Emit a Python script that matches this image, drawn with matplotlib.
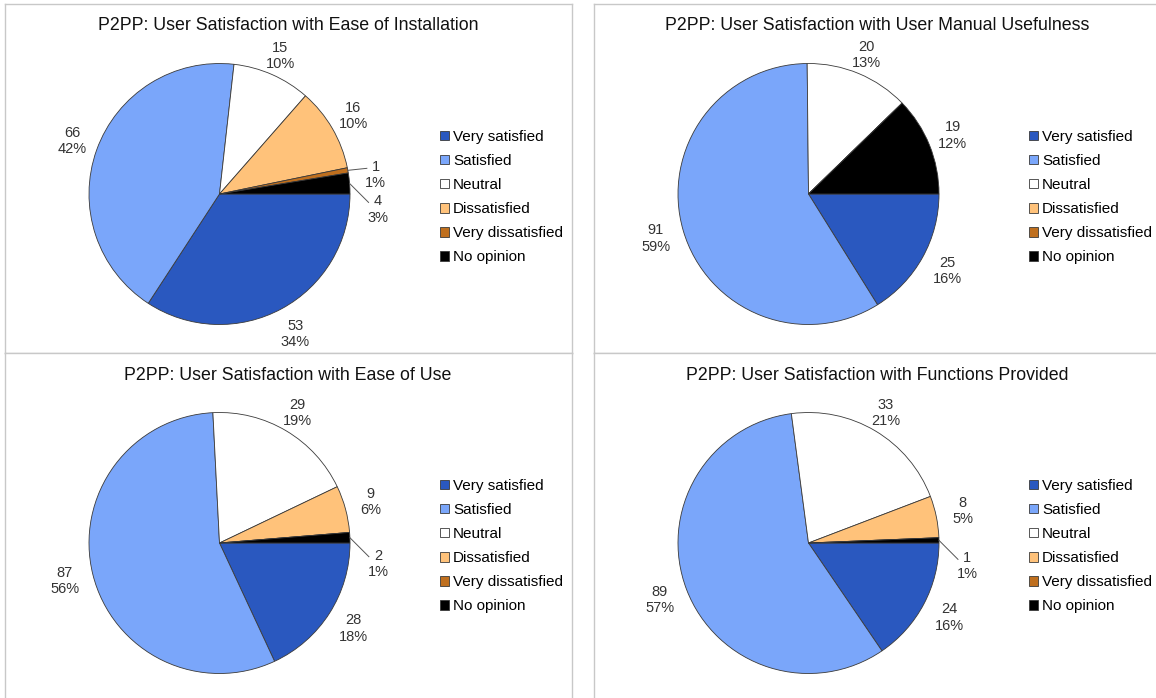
import numpy as np
import matplotlib
matplotlib.use("Agg")
import matplotlib.pyplot as plt

plt.rcParams['font.family'] = ['Liberation Sans', 'DejaVu Sans']

categories = ['Very satisfied', 'Satisfied', 'Neutral', 'Dissatisfied',
              'Very dissatisfied', 'No opinion']
colors = ['#2A58BF', '#7AA6FA', '#FFFFFF', '#FFC27A', '#BF6F1E', '#000000']

titles = ['P2PP: User Satisfaction with Ease of Installation',
          'P2PP: User Satisfaction with User Manual Usefulness',
          'P2PP: User Satisfaction with Ease of Use',
          'P2PP: User Satisfaction with Functions Provided']

installation = [53, 66, 15, 16, 1, 4]
manual = [25, 91, 20, 0, 0, 19]
ease_of_use = [28, 87, 29, 9, 0, 2]
functions = [24, 89, 33, 8, 0, 1]

W, H = 1156, 698
fig = plt.figure(figsize=(W / 100, H / 100), dpi=100)

# panel boxes in pixels: left, top, right, bottom
panels = [(5, 4, 572, 353), (594, 4, 1162, 353),
          (5, 353, 572, 702), (594, 353, 1162, 702)]


def percents(vals):
    # largest remainder so the labels add up to 100
    raw = [100 * v / sum(vals) for v in vals]
    out = [int(np.floor(r)) for r in raw]
    order = sorted(range(len(vals)), key=lambda i: raw[i] - out[i], reverse=True)
    for i in order[:100 - sum(out)]:
        out[i] += 1
    return out


def draw_panel(box, vals, title):
    x0, y0, x1, y1 = box
    w, h = x1 - x0, y1 - y0
    ax = fig.add_axes([x0 / W, (H - y1) / H, w / W, h / H])
    cx, cy, r = 214.5, -190, 130.5
    wedges, _ = ax.pie(vals, colors=colors, startangle=0, counterclock=False,
                       center=(cx, cy), radius=r,
                       wedgeprops=dict(edgecolor='#3a3a3a', linewidth=0.6))
    ax.set_xlim(0, w)
    ax.set_ylim(-h, 0)
    ax.set_aspect('auto')
    ax.set_frame_on(True)
    for s in ax.spines.values():
        s.set_color('#c8c8c8')
        s.set_linewidth(1)

    pct = percents(vals)
    total = sum(vals)
    for wdg, v, p in zip(wedges, vals, pct):
        if v == 0:
            continue
        ang = np.deg2rad((wdg.theta1 + wdg.theta2) / 2)
        txt = f'{v}\n{p}%'
        if v / total < 0.035:
            ex, ey = cx + r * np.cos(ang), cy + r * np.sin(ang)
            if np.rad2deg(ang) % 360 > 8:
                tx, ty = ex + 19, ey + 2
            else:
                tx, ty = ex + 19, ey - 19
            ax.plot([ex, tx], [ey, ty], color='#555555', lw=0.7)
            ax.text(tx + 9, ty - 7, txt, ha='center', va='center',
                    fontsize=10.5, color='#333333', linespacing=1.2)
        else:
            d = 1.22 - 0.07 * max(np.sin(ang), 0)
            ax.text(cx + d * r * np.cos(ang), cy + d * r * np.sin(ang), txt,
                    ha='center', va='center', fontsize=10.5, color='#333333',
                    linespacing=1.2)

    ax.text(283, -22, title, ha='center', va='center', fontsize=12.8, color='#111111')
    ax.legend(wedges, categories, loc='center left', bbox_to_anchor=(435, -193),
              bbox_transform=ax.transData, frameon=False, fontsize=11,
              handlelength=0.6, handleheight=0.6, handletextpad=0.25,
              labelspacing=0.66, borderpad=0, borderaxespad=0)


for box, vals, title in zip(panels, [installation, manual, ease_of_use, functions], titles):
    draw_panel(box, vals, title)

fig.savefig('out.png', dpi=100, facecolor='white')
